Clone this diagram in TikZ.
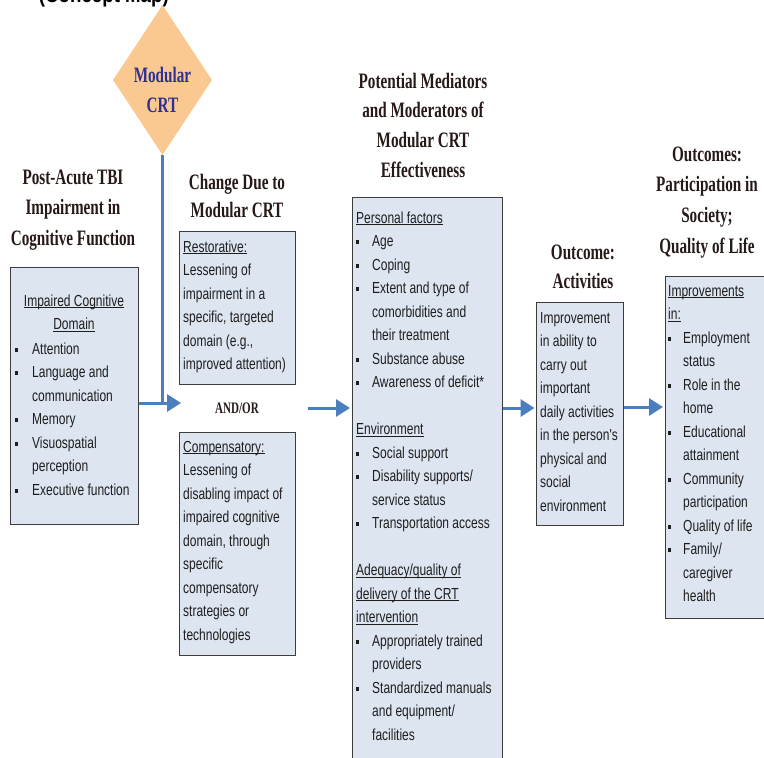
\documentclass[tikz,border=0pt]{standalone}
\usepackage{fontspec}
\usetikzlibrary{arrows.meta,shapes.geometric}
\newfontfamily\hdfont{Liberation Serif}[FakeStretch=0.69]
\newfontfamily\bdfont{Liberation Sans}[FakeStretch=0.75]
\newfontfamily\tpfont{Liberation Sans}[FakeStretch=0.85]
\definecolor{boxfill}{HTML}{DDE5F1}
\definecolor{boxline}{HTML}{3C3C3C}
\definecolor{arrowblue}{HTML}{4A7EBF}
\definecolor{diafill}{HTML}{FAC992}
\definecolor{diatext}{HTML}{2E3192}
\definecolor{headcol}{HTML}{261A18}
\definecolor{bodycol}{HTML}{1E1E1E}
\newlength\bind
\newcommand{\B}{\leavevmode\makebox[\bind][l]{\rule[2.4pt]{3.2pt}{3.8pt}}}
\newcommand{\C}{\leavevmode\hspace*{\bind}}
\newcommand{\ul}[1]{\leavevmode\setbox0\hbox{#1}\rlap{\rule[-2.2pt]{\wd0}{0.9pt}}\box0}
\newcommand{\bodytext}[2]{\parbox[t]{#1}{\bdfont\fontsize{16}{23.5}\selectfont\raggedright #2}}
\newcommand{\headtext}[3]{\parbox[t]{200pt}{\centering\hdfont\bfseries\fontsize{#1}{#2}\selectfont #3}}
\tikzset{
  box/.style={draw=boxline, line width=1.2pt, fill=boxfill, inner sep=0pt, anchor=north west},
  txt/.style={inner sep=0pt, anchor=base west, text=bodycol},
  hd/.style={inner sep=0pt, anchor=base, text=headcol},
  flow/.style={draw=arrowblue, line width=3pt},
  flowarrow/.style={flow, -{Triangle[length=14pt,width=17pt]}}
}
\begin{document}
\begin{tikzpicture}[x=1pt,y=-1pt]
\clip (0,0) rectangle (764,758);
\fill[white] (0,0) rectangle (764,758);

% partial title at the top edge
\node[inner sep=0pt, anchor=base east] (toptitle) at (169,2) {\tpfont\bfseries\fontsize{22}{26}\selectfont (Concept Map)};

% diamond
\node[diamond, fill=diafill, draw=none, minimum width=99pt, minimum height=150pt, inner sep=0pt] (crt) at (162.5,80) {};
\node[inner sep=0pt, anchor=base, text=diatext] (crttext) at (162.5,82) {\headtext{22}{30}{Modular\\CRT}};

% headers
\node[hd] (h1) at (73,184) {\headtext{22}{30.5}{Post-Acute TBI\\Impairment in\\Cognitive Function}};
\node[hd] (h2) at (237,189) {\headtext{22}{28}{Change Due to\\Modular CRT}};
\node[hd] (h3) at (423,88) {\headtext{22}{29.7}{Potential Mediators\\and Moderators of\\Modular CRT\\Effectiveness}};
\node[hd] (h4) at (583,259) {\headtext{22}{29}{Outcome:\\Activities}};
\node[hd] (h5) at (707,161) {\headtext{22}{30.7}{Outcomes:\\Participation in\\Society;\\Quality of Life}};
\node[hd] (andor) at (237,413) {\headtext{16}{20}{AND/OR}};

% boxes
\node[box, minimum width=128pt, minimum height=257pt] (imp) at (10,267) {};
\node[box, minimum width=116pt, minimum height=153pt] (rest) at (179,231) {};
\node[box, minimum width=116pt, minimum height=223pt] (comp) at (179,432) {};
\node[box, minimum width=150pt, minimum height=590pt] (med) at (352,197) {};
\node[box, minimum width=87pt, minimum height=223pt] (act) at (536,302) {};
\node[box, minimum width=130pt, minimum height=342pt] (outc) at (665,276) {};

% box texts
\node[inner sep=0pt, anchor=base, text=bodycol] (imphead) at (74,306) {\parbox[t]{128pt}{\centering\bdfont\fontsize{16}{23.5}\selectfont \ul{Impaired Cognitive}\\\ul{Domain}}};
\node[txt] (implist) at (15,354) {\setlength\bind{17pt}\bodytext{125pt}{\B Attention\\\B Language and\\\C communication\\\B Memory\\\B Visuospatial\\\C perception\\\B Executive function}};

\node[txt] (resttext) at (183,252) {\bodytext{112pt}{\ul{Restorative:}\\Lessening of\\impairment in a\\specific, targeted\\domain (e.g.,\\improved attention)}};
\node[txt] (comptext) at (183,452) {\bodytext{112pt}{\ul{Compensatory:}\\Lessening of\\disabling impact of\\impaired cognitive\\domain, through\\specific\\compensatory\\strategies or\\technologies}};

\node[txt] (medtext) at (356,223) {\setlength\bind{16pt}\bodytext{145pt}{\ul{Personal factors}\\\B Age\\\B Coping\\\B Extent and type of\\\C comorbidities and\\\C their treatment\\\B Substance abuse\\\B Awareness of deficit*\\\mbox{}\\\ul{Environment}\\\B Social support\\\B Disability supports/\\\C service status\\\B Transportation access\\\mbox{}\\\ul{Adequacy/quality of}\\\ul{delivery of the CRT}\\\ul{intervention}\\\B Appropriately trained\\\C providers\\\B Standardized manuals\\\C and equipment/\\\C facilities}};

\node[txt] (acttext) at (540,323) {\bodytext{85pt}{Improvement\\in ability to\\carry out\\important\\daily activities\\in the person's\\physical and\\social\\environment}};

\node[txt] (outctext) at (668,296) {\setlength\bind{15pt}\bodytext{100pt}{\ul{Improvements}\\\ul{in:}\\\B Employment\\\C status\\\B Role in the\\\C home\\\B Educational\\\C attainment\\\B Community\\\C participation\\\B Quality of life\\\B Family/\\\C caregiver\\\C health}};

% connectors
\coordinate (join) at (crt.south |- 0,403);
\coordinate (tipone) at (181,403);
\coordinate (aostart) at (308,408);
\draw[flow] (crt.south) -- (join);
\draw[flowarrow] (imp.east |- join) -- (tipone);
\draw[flowarrow] (aostart) -- ([xshift=-2pt]med.west |- aostart);
\draw[flowarrow] (med.east |- 0,408) -- ([xshift=-1.5pt]act.west |- 0,408);
\draw[flowarrow] (act.east |- 0,407) -- ([xshift=-2pt]outc.west |- 0,407);
\end{tikzpicture}
\end{document}
